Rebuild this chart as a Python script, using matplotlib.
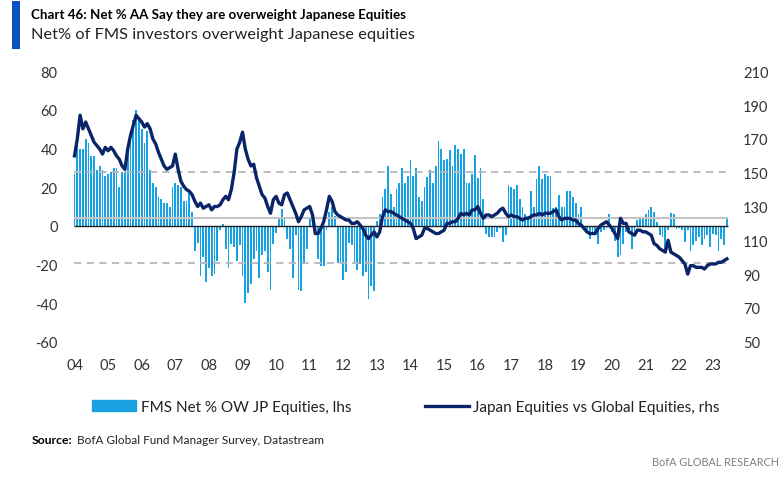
import numpy as np
import matplotlib
matplotlib.use("Agg")
import matplotlib.pyplot as plt
from matplotlib.patches import Patch, Rectangle
from matplotlib.lines import Line2D

# monthly data, Jan 2004 .. Jun 2023
start_year = 2004
year_labels = ['04', '05', '06', '07', '08', '09', '10', '11', '12', '13',
               '14', '15', '16', '17', '18', '19', '20', '21', '22', '23']

# FMS net % overweight Japanese equities (lhs)
fms_net_ow = [
    27, 45, 40, 40, 45, 43, 36, 36, 29, 31, 29, 26,            # 2004
    27, 28, 30, 30, 20, 28, 28, 38, 46, 55, 60, 55,            # 2005
    50, 43, 49, 29, 22, 20, 15, 14, 12, 12, 9.5, 20,           # 2006
    22, 21, 20, 13, 13, 17, 7, -13, -9, -26, -16, -29,         # 2007
    -22, -26, -25, -18, -2, 1, -12, -22, -9.5, -11, -18, -10,  # 2008
    -26, -40, -35, -30, -17, -13, -27, -15, -13, -24, -33, -9.5,  # 2009
    -3.5, 4, 8.6, 4, -7, -12, -27, -5, -33, -34, -20, -12,     # 2010
    4, 2, -5, -17, -21, -21, -2, 7, 10, 5, -19, -19,           # 2011
    -28, -24, -9, -10, -19, -23, -20, -26, -24, -38, -31, -34,  # 2012
    2.6, 6, 14.7, 19.3, 31, 16.4, 10, 19, 22.4, 30, 22, 26,    # 2013
    34, 26, 30, 15, 13, 20, 25.5, 29, 22, 31, 44, 40,          # 2014
    34, 34.5, 39, 31, 42, 40, 37, 40, 22, 22, 27, 36.6,        # 2015
    25, 30, 14, -4.3, -6, -6, -6, -3, -1, -8.6, -5, 21,        # 2016
    20, 19, 21, 14, 10, 6, 5, 18, 10, 24, 31, 24,              # 2017
    27, 26, 26, 9, 10, 16, 10, 10, 18, 18, 15, 12,             # 2018
    6, 9.5, -2, -3, -7, -3, -5, -9.5, -3, -2, -1, 6,           # 2019
    -3, -8, -16, -15, -9.5, -3, -2, -12, -3.5, 3, 3.5, 4.3,    # 2020
    6, 8, 9.5, 7, 2, -5, -6, -12, -2, 6.4, 6, -1.7,            # 2021
    -1, -2, -8.6, -2, -13, -10, -7.8, -6, -10, -7, -5, -11,    # 2022
    -4, -5, -13, -7, -10, 3.5,                                 # 2023
]

# Japan equities vs global equities (rhs)
jp_vs_global = [
    160, 170, 184, 176, 180, 176, 172, 168, 166, 164, 161, 165,  # 2004
    163, 165, 163, 160, 158, 154, 152, 164, 172, 178, 184, 182,  # 2005
    180, 177, 179, 176, 170, 167, 162, 158, 154, 152, 153, 154,  # 2006
    161, 152, 145, 142, 140, 139, 137, 133, 130, 132, 129, 130,  # 2007
    131, 128, 130, 130, 131, 134, 136, 134, 140, 150, 164, 168,  # 2008
    174, 164, 158, 154, 155, 147, 142, 137, 135, 130, 126, 134,  # 2009
    136, 132, 131, 137, 138, 134, 130, 126, 121, 124, 128, 129,  # 2010
    130, 125, 114, 114, 117, 121, 128, 136, 133, 127, 125, 124,  # 2011
    123, 122, 122, 120, 120, 121, 119, 117, 113, 111, 113, 115,  # 2012
    112, 115, 124, 128, 127, 127, 126, 125, 124, 123, 122, 121,  # 2013
    120, 117, 111, 112, 113, 117, 117, 116, 115, 114, 114, 115,  # 2014
    116, 120, 120, 121, 121, 123, 126, 125, 126, 125, 128, 128,  # 2015
    130, 126, 123, 125, 125, 124, 125, 126, 128, 129, 126, 124,  # 2016
    125, 124, 124, 123, 122, 123, 123, 124, 125, 125, 126, 125,  # 2017
    126, 126, 126, 127, 128, 124, 122, 123, 123, 123, 122, 122,  # 2018
    120, 119, 117, 115, 114, 114, 114, 117, 119, 120, 121, 119,  # 2019
    117, 114, 111, 123, 120, 120, 115, 114, 113, 116, 116, 115,  # 2020
    115, 114, 113, 108, 107, 105, 104, 103, 110, 103, 102, 101,  # 2021
    100, 98, 96, 90, 95, 95, 94, 94, 94, 93, 95, 96,             # 2022
    96, 96, 97, 97, 98, 99,                                      # 2023
]

# long-run average and +/- 1 st.dev. of the FMS series
fms_avg = 4.2
fms_sd = 23.5

legend_labels = ['FMS Net % OW JP Equities, lhs',
                 'Japan Equities vs Global Equities, rhs']

bar_col = '#18a2e4'
line_col = '#0a2468'
fam = ['Lato', 'DejaVu Sans']

plt.rcParams['font.family'] = fam
plt.rcParams['axes.unicode_minus'] = False

W, H = 781, 481
fig = plt.figure(figsize=(W / 100, H / 100), dpi=100)
ax = fig.add_axes([70 / W, 1 - 342.7 / H, 666 / W, 270.4 / H])
ax2 = ax.twinx()

x = start_year + np.arange(len(fms_net_ow)) / 12
x0, x1 = x[0] - 0.02, x[-1] + 0.03

ax.bar(x, fms_net_ow, width=0.05, color=bar_col, linewidth=0, zorder=1)
ax.hlines(fms_avg, x0, x1, color='#c4c4c4', lw=1.5, zorder=2)
ax.hlines([fms_avg + fms_sd, fms_avg - fms_sd], x0, x1, color='#b8b8b8',
          lw=1.3, linestyles=(0, (4, 3)), zorder=2)
ax.hlines(0, x0, x1, color='#222222', lw=1.0, zorder=3)

ax2.plot(x, jp_vs_global, color=line_col, lw=2.4, solid_joinstyle='round')

ax.set_xlim(start_year - 4.5 / 33.6, start_year + 661.5 / 33.6)
ax.set_ylim(-60, 80)
ax2.set_ylim(50, 210)

ax.set_xticks(start_year + np.arange(len(year_labels)))
ax.set_xticklabels(year_labels)
ax.set_yticks(range(-60, 81, 20))
ax2.set_yticks(range(50, 211, 20))

for a in (ax, ax2):
    for s in a.spines.values():
        s.set_visible(False)
ax.tick_params(axis='y', length=0, labelsize=10.5, colors='#333333', pad=9)
ax.tick_params(axis='x', length=0, labelsize=10.5, colors='#333333', pad=12)
ax2.tick_params(axis='y', length=0, labelsize=10.5, colors='#333333', pad=5)

# header
fig.add_artist(Rectangle((11.5 / W, 1 - 50 / H), 8.5 / W, 48 / H,
                         transform=fig.transFigure, color='#0b53c1', lw=0))
title = fig.text(31 / W, 1 - 15 / H,
                 'Chart 46: Net % AA Say they are overweight Japanese Equities',
                 fontsize=12, fontweight='bold', va='center')
sub = fig.text(31 / W, 1 - 35 / H,
               'Net% of FMS investors overweight Japanese equities',
               fontsize=12, va='center', color='#222222')

src1 = fig.text(32 / W, 1 - 441 / H, 'Source:', fontsize=8.5, fontweight='bold',
                va='center')
src2 = fig.text(77 / W, 1 - 441 / H, 'BofA Global Fund Manager Survey, Datastream',
                fontsize=8.5, va='center', color='#222222')
brand = fig.text(779 / W, 1 - 463 / H, 'BofA GLOBAL RESEARCH', fontsize=8.5,
                 ha='right', va='center', color='#808080')


def fit(t, width_px):
    fig.canvas.draw()
    w = t.get_window_extent(fig.canvas.get_renderer()).width
    t.set_fontsize(t.get_fontsize() * width_px / w)


fit(title, 372)
fit(sub, 382)
fit(src1, 40)
fit(src2, 246)
fit(brand, 127)

# legend font size so the first label is ~210 px wide
probe = fig.text(0, 0, legend_labels[0], fontsize=10)
fit(probe, 210)
leg_size = probe.get_fontsize()
probe.remove()

leg = fig.legend(handles=[Patch(color=bar_col),
                          Line2D([], [], color=line_col, lw=2.4)],
                 labels=legend_labels,
                 loc='center', bbox_to_anchor=(406 / W, 1 - 408 / H), ncol=2,
                 frameon=False, handlelength=2.9, handletextpad=0.3,
                 columnspacing=4.8, prop={'size': leg_size})
for t in leg.get_texts():
    t.set_color('#222222')

fig.savefig('out.png', dpi=100)
